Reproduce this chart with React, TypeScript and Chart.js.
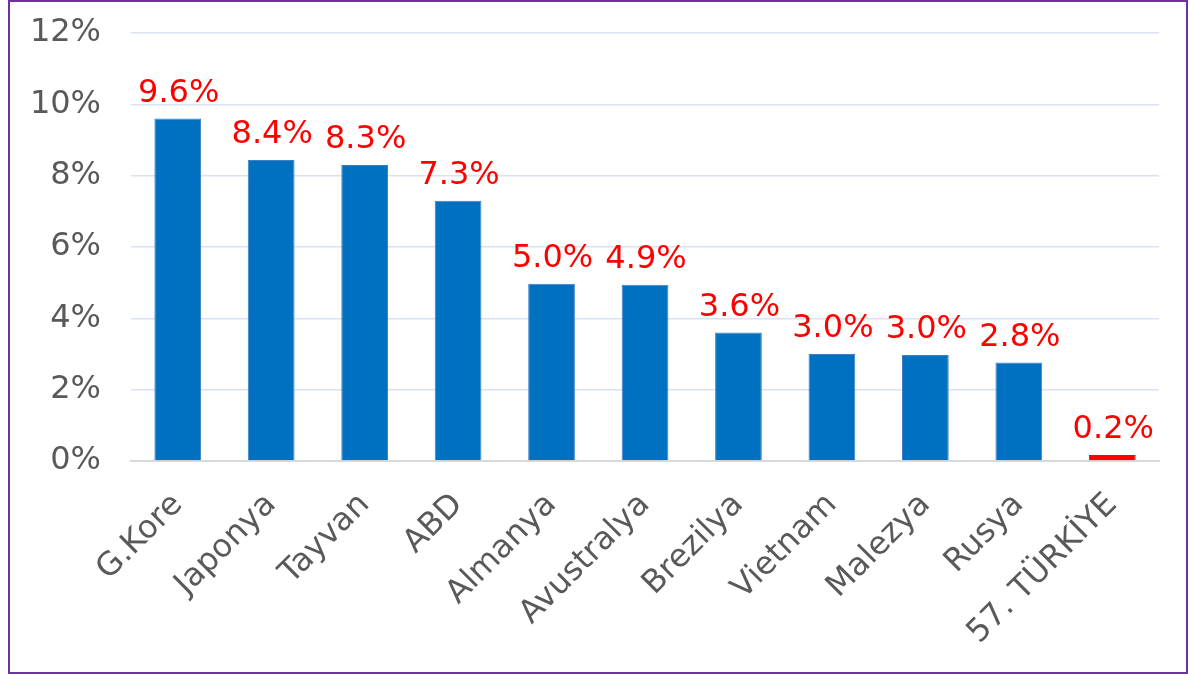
import React, { useEffect, useRef } from "react";
import { Chart, registerables } from "chart.js";

Chart.register(...registerables);

const categories = ["G.Kore", "Japonya", "Tayvan", "ABD", "Almanya", "Avustralya", "Brezilya", "Vietnam", "Malezya", "Rusya", "57. TÜRKİYE"];
const values = [9.6, 8.44, 8.3, 7.3, 4.97, 4.94, 3.6, 3.0, 2.97, 2.76, 0.17];
const barColors = ["#0070C0", "#0070C0", "#0070C0", "#0070C0", "#0070C0", "#0070C0", "#0070C0", "#0070C0", "#0070C0", "#0070C0", "#FF0000"];
const yTicks = [0, 2, 4, 6, 8, 10, 12];

const FONT = "'DejaVu Sans', Verdana, sans-serif";

const valueLabels = {
  id: "valueLabels",
  afterDatasetsDraw(chart: any) {
    const ctx = chart.ctx;
    const meta = chart.getDatasetMeta(0);
    ctx.save();
    ctx.font = `32px ${FONT}`;
    ctx.fillStyle = "#FF0000";
    ctx.textAlign = "center";
    ctx.textBaseline = "alphabetic";
    meta.data.forEach((bar: any, i: number) => {
      ctx.fillText(values[i].toFixed(1) + "%", bar.x + 1, bar.y - 17);
    });
    ctx.restore();
  },
};

export default function App() {
  const ref = useRef<HTMLCanvasElement | null>(null);
  useEffect(() => {
    document.body.style.margin = "0";
    const chart = new Chart(ref.current!, {
      type: "bar",
      data: {
        labels: categories,
        datasets: [
          {
            data: values,
            backgroundColor: barColors,
            borderColor: barColors.map((c) => (c === "#FF0000" ? "#FF0000" : "#3D7FC4")),
            borderWidth: 1,
            barPercentage: 0.5,
            categoryPercentage: 1,
          },
        ],
      },
      options: {
        animation: false,
        responsive: true,
        maintainAspectRatio: false,
        layout: { padding: { top: 31, right: 27, left: 0, bottom: 0 } },
        plugins: { legend: { display: false }, tooltip: { enabled: false } },
        scales: {
          y: {
            min: 0,
            max: 12,
            afterFit: (s: any) => {
              s.width = 121;
              s.paddingTop = 0;
              s.paddingBottom = 0;
            },
            afterBuildTicks: (s: any) => {
              s.ticks = yTicks.map((v) => ({ value: v }));
            },
            ticks: {
              padding: 30,
              color: "#595959",
              font: { family: FONT, size: 32 },
              callback: (v: any) => v + "%",
            },
            grid: { color: "#D9E1F2", lineWidth: 1.5, drawTicks: false },
            border: { display: false },
          },
          x: {
            afterFit: (s: any) => {
              s.height = 211;
            },
            ticks: {
              color: "#595959",
              font: { family: FONT, size: 32 },
              minRotation: 45,
              maxRotation: 45,
              padding: 25,
              autoSkip: false,
            },
            grid: { display: false, drawTicks: false },
            border: { color: "#D9D9D9", width: 2 },
          },
        },
      },
      plugins: [valueLabels],
    });
    return () => chart.destroy();
  }, []);
  return (
    <div
      style={{
        position: "absolute",
        left: 8,
        top: 0,
        width: 1180,
        height: 674,
        boxSizing: "border-box",
        border: "2px solid #7030A0",
        background: "#fff",
      }}
    >
      <canvas ref={ref} />
    </div>
  );
}
